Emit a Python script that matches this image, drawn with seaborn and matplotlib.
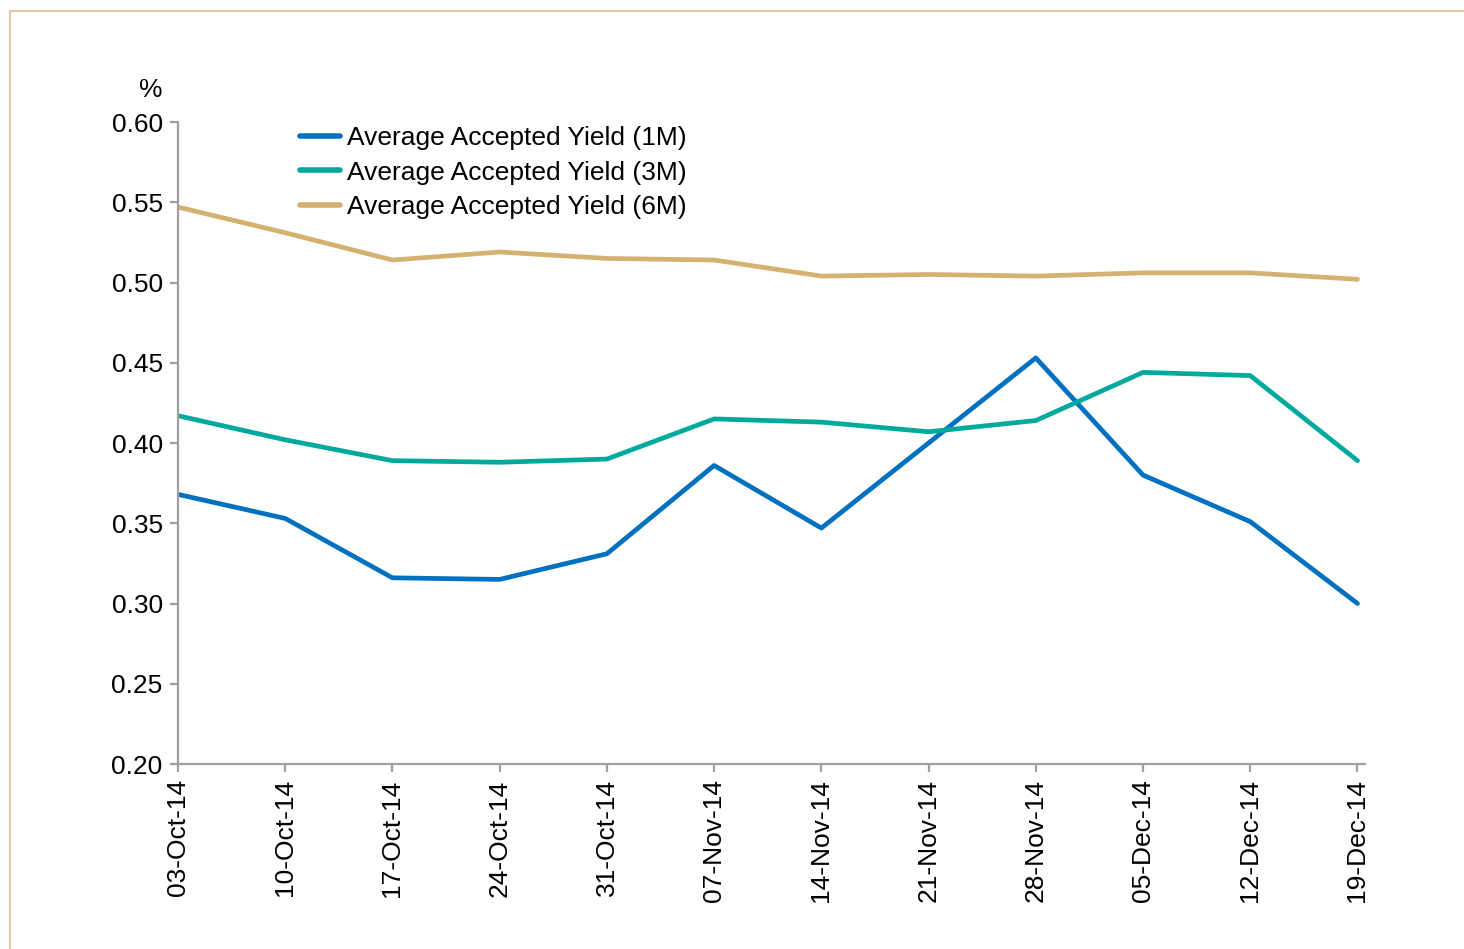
import matplotlib
matplotlib.use("Agg")
import matplotlib.pyplot as plt
import seaborn as sns
import pandas as pd
from matplotlib.lines import Line2D

dates = ["03-Oct-14", "10-Oct-14", "17-Oct-14", "24-Oct-14", "31-Oct-14", "07-Nov-14",
         "14-Nov-14", "21-Nov-14", "28-Nov-14", "05-Dec-14", "12-Dec-14", "19-Dec-14"]
yield_1m = [0.368, 0.353, 0.316, 0.315, 0.331, 0.386, 0.347, 0.400, 0.453, 0.380, 0.351, 0.300]
yield_3m = [0.417, 0.402, 0.389, 0.388, 0.390, 0.415, 0.413, 0.407, 0.414, 0.444, 0.442, 0.389]
yield_6m = [0.547, 0.531, 0.514, 0.519, 0.515, 0.514, 0.504, 0.505, 0.504, 0.506, 0.506, 0.502]
series_names = ["Average Accepted Yield (1M)", "Average Accepted Yield (3M)", "Average Accepted Yield (6M)"]
y_ticks = [0.20, 0.25, 0.30, 0.35, 0.40, 0.45, 0.50, 0.55, 0.60]

colors = ["#0070C0", "#00A99D", "#D4B16E"]

rows = []
for name, vals in zip(series_names, [yield_1m, yield_3m, yield_6m]):
    for i, (d, v) in enumerate(zip(dates, vals)):
        rows.append({"idx": i, "date": d, "value": v, "series": name})
df = pd.DataFrame(rows)

sns.set_theme(style="white")
plt.rcParams["font.family"] = ["Liberation Sans", "DejaVu Sans"]
plt.rcParams["text.color"] = "black"

W, H = 1464, 949
fig = plt.figure(figsize=(14.64, 9.49), dpi=100)
ax = fig.add_axes([178 / W, 1 - 764 / H, (1365 - 178) / W, (764 - 122) / H])

sns.lineplot(data=df, x="idx", y="value", hue="series", palette=colors,
             linewidth=3.4, ax=ax, legend=True)

FS = 19
ax.set_xlim(0, 11.07)
ax.set_ylim(0.20, 0.60)
ax.set_xticks(range(len(dates)))
ax.set_xticklabels(dates, rotation=90, fontsize=FS, color="black")
ax.set_yticks(y_ticks)
ax.set_yticklabels([f"{t:.2f}" for t in y_ticks], fontsize=FS, color="black")
ax.set_xlabel("")
ax.set_ylabel("")

for s in ["top", "right"]:
    ax.spines[s].set_visible(False)
for s in ["left", "bottom"]:
    ax.spines[s].set_color("#A0A0A0")
    ax.spines[s].set_linewidth(1.6)
ax.tick_params(axis="both", which="major", direction="out", length=6, width=1.6,
               color="#A0A0A0", pad=5, left=True, bottom=True)

fig.text(151 / W, 1 - 90 / H, "%", fontsize=FS, ha="center", va="center", color="black")

handles = [Line2D([0], [0], color=c, lw=4, solid_capstyle="round") for c in colors]
leg = ax.legend(handles, series_names, loc="upper left",
                bbox_to_anchor=(300 / W, 1 - 126 / H), bbox_transform=fig.transFigure,
                frameon=False, fontsize=FS, handlelength=1.5, handletextpad=0.28,
                labelspacing=0.4, borderaxespad=0.0, borderpad=0.0)
for t in leg.get_texts():
    t.set_color("black")

# decorative frame (top and left visible)
fig.add_artist(Line2D([10 / W, 1.0], [1 - 11 / H, 1 - 11 / H], color="#E0CC9E",
                      lw=1.5, transform=fig.transFigure))
fig.add_artist(Line2D([10 / W, 10 / W], [0.0, 1 - 11 / H], color="#E0CC9E",
                      lw=1.5, transform=fig.transFigure))

fig.savefig("out.png", dpi=100)
